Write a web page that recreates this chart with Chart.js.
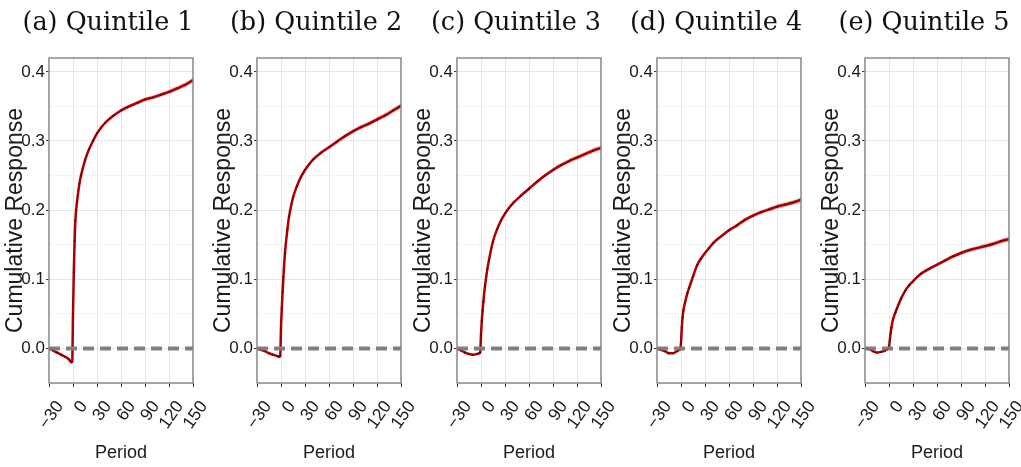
<!DOCTYPE html>
<html>
<head>
<meta charset="utf-8">
<script src="https://cdn.jsdelivr.net/npm/chart.js@4.4.1/dist/chart.umd.min.js"></script>
<style>
  body { margin: 0; background: #fff; }
  #wrap { position: relative; width: 1021px; height: 467px; overflow: hidden; }
  #wrap canvas { position: absolute; top: 0; }
</style>
</head>
<body>
<div id="wrap">
  <canvas id="q1" width="212" height="467" style="left:0px"></canvas>
  <canvas id="q2" width="212" height="467" style="left:208px"></canvas>
  <canvas id="q3" width="212" height="467" style="left:408px"></canvas>
  <canvas id="q4" width="212" height="467" style="left:608px"></canvas>
  <canvas id="q5" width="212" height="467" style="left:816px"></canvas>
</div>
<script>
// periods relative to the event
const periods = [-30, -25, -20, -15, -10, -5, -2, -1, 0, 1, 2, 3, 5, 8, 10, 15, 20, 25, 30, 35, 40,
                 50, 60, 70, 80, 90, 100, 110, 120, 130, 140, 150];

// cumulative response per quintile
const q1 = [0, -0.003, -0.006, -0.009, -0.012, -0.016, -0.020, -0.019, 0.05, 0.11, 0.155, 0.185, 0.212, 0.238, 0.25, 0.272, 0.288, 0.300, 0.311, 0.319, 0.326,
            0.336, 0.344, 0.350, 0.355, 0.360, 0.363, 0.367, 0.371, 0.376, 0.381, 0.388];
const q2 = [0, -0.002, -0.004, -0.007, -0.009, -0.011, -0.012, -0.011, 0.03, 0.058, 0.082, 0.103, 0.138, 0.172, 0.19, 0.218, 0.235, 0.248, 0.258, 0.266, 0.273,
            0.283, 0.291, 0.299, 0.307, 0.314, 0.320, 0.325, 0.331, 0.337, 0.344, 0.351];
const q3 = [0, -0.003, -0.006, -0.008, -0.009, -0.008, -0.007, -0.006, 0.02, 0.04, 0.055, 0.068, 0.09, 0.115, 0.128, 0.155, 0.172, 0.185, 0.195, 0.203, 0.210,
            0.221, 0.231, 0.241, 0.250, 0.258, 0.265, 0.271, 0.276, 0.281, 0.286, 0.290];
const q4 = [0, -0.002, -0.004, -0.007, -0.007, -0.004, -0.002, -0.001, 0.008, 0.03, 0.045, 0.055, 0.066, 0.08, 0.087, 0.104, 0.12, 0.13, 0.138, 0.145, 0.152,
            0.162, 0.171, 0.178, 0.186, 0.192, 0.197, 0.201, 0.205, 0.208, 0.211, 0.215];
const q5 = [0, -0.001, -0.004, -0.006, -0.005, -0.003, -0.001, 0, 0.002, 0.012, 0.022, 0.03, 0.042, 0.052, 0.058, 0.072, 0.083, 0.091, 0.097, 0.103, 0.108,
            0.115, 0.121, 0.127, 0.133, 0.138, 0.142, 0.145, 0.148, 0.151, 0.155, 0.158];

// half width of the confidence band
const bandHalf = [0.0005, 0.0008, 0.001, 0.0012, 0.0013, 0.0014, 0.0015, 0.0015, 0.0016, 0.0017, 0.0018, 0.0018, 0.0019, 0.002, 0.002, 0.0021, 0.0022, 0.0022, 0.0023, 0.0023, 0.0024,
                  0.0025, 0.0026, 0.0027, 0.0028, 0.0029, 0.003, 0.0031, 0.0032, 0.0033, 0.0034, 0.0035];

const titles = ["(a) Quintile 1", "(b) Quintile 2", "(c) Quintile 3", "(d) Quintile 4", "(e) Quintile 5"];
const xTickValues = [-30, 0, 30, 60, 90, 120, 150];
const xTickLabels = ["\u221230", "0", "30", "60", "90", "120", "150"];
const yTickValues = [0, 0.1, 0.2, 0.3, 0.4];
const yTickLabels = ["0.0", "0.1", "0.2", "0.3", "0.4"];

const sans = "'Liberation Sans', Arial, sans-serif";

function yIndex(v) {
    return yTickValues.findIndex(t => Math.abs(t - v) < 1e-9);
}

// grey box round the panel
const framePlugin = {
    id: "frame",
    afterDraw(chart) {
        const a = chart.chartArea;
        const ctx = chart.ctx;
        ctx.save();
        ctx.strokeStyle = "#8a8a8a";
        ctx.lineWidth = 1.5;
        ctx.strokeRect(a.left, a.top, a.right - a.left, a.bottom - a.top);
        ctx.restore();
    }
};

// panel caption, centred over plot + axis label like the original subfigure
const panelTitle = {
    id: "panelTitle",
    afterDraw(chart, args, opts) {
        const a = chart.chartArea;
        const ctx = chart.ctx;
        ctx.save();
        ctx.font = "25.5px 'DejaVu Serif', serif";
        ctx.fillStyle = "#111";
        ctx.textAlign = "center";
        ctx.textBaseline = "middle";
        ctx.fillText(opts.text, (a.left + a.right) / 2 - 13, 23);
        ctx.restore();
    }
};

function makePanel(id, title, values) {
    const line = periods.map((p, i) => ({ x: p, y: values[i] }));
    const lower = periods.map((p, i) => ({ x: p, y: values[i] - bandHalf[i] }));
    const upper = periods.map((p, i) => ({ x: p, y: values[i] + bandHalf[i] }));
    const zero = [{ x: xTickValues[0], y: 0 }, { x: xTickValues[xTickValues.length - 1], y: 0 }];

    new Chart(document.getElementById(id), {
        type: "line",
        data: {
            datasets: [
                { data: lower, borderWidth: 0, pointRadius: 0, fill: false, cubicInterpolationMode: "monotone" },
                { data: upper, borderWidth: 0, pointRadius: 0, fill: "-1", backgroundColor: "rgba(178,0,0,0.3)", cubicInterpolationMode: "monotone" },
                { data: zero, borderColor: "#808080", borderWidth: 4, borderDash: [11, 6], pointRadius: 0, fill: false },
                {
                    data: line, borderColor: "#a80000", borderWidth: 2.5, fill: false,
                    pointRadius: 1, pointBackgroundColor: "#5a0000", pointBorderWidth: 0,
                    cubicInterpolationMode: "monotone"
                }
            ]
        },
        options: {
            responsive: false,
            devicePixelRatio: 1,
            animation: false,
            layout: { padding: { top: 58, right: 19 } },
            plugins: {
                legend: { display: false },
                tooltip: { enabled: false },
                title: { display: false },
                panelTitle: { text: title }
            },
            scales: {
                x: {
                    type: "linear",
                    min: -30,
                    max: 150,
                    afterFit(s) {
                        s.height = 84;
                        s.paddingLeft = 0; s.paddingRight = 0; s.paddingTop = 0; s.paddingBottom = 0;
                    },
                    border: { display: false },
                    grid: {
                        color: c => xTickValues.includes(c.tick.value) ? "#e6e6e6" : "rgba(0,0,0,0)",
                        lineWidth: 1,
                        tickColor: c => xTickValues.includes(c.tick.value) ? "#333" : "rgba(0,0,0,0)",
                        tickLength: 4
                    },
                    ticks: {
                        stepSize: 15,
                        autoSkip: false,
                        minRotation: 55,
                        maxRotation: 55,
                        padding: 10,
                        labelOffset: 11,
                        color: "#1a1a1a",
                        font: { family: sans, size: 17.5 },
                        callback: v => {
                            const i = xTickValues.indexOf(v);
                            return i >= 0 ? xTickLabels[i] : "";
                        }
                    },
                    title: {
                        display: true,
                        text: "Period",
                        color: "#1a1a1a",
                        font: { family: sans, size: 18 },
                        padding: { top: 0, bottom: 3 }
                    }
                },
                y: {
                    min: -0.05,
                    max: 0.42,
                    afterFit(s) {
                        s.width = 49;
                        s.paddingLeft = 0; s.paddingRight = 0; s.paddingTop = 0; s.paddingBottom = 0;
                    },
                    border: { display: false },
                    grid: {
                        color: c => yIndex(c.tick.value) >= 0 ? "#e6e6e6" : "#f3f3f3",
                        lineWidth: 1,
                        tickColor: c => yIndex(c.tick.value) >= 0 ? "#333" : "rgba(0,0,0,0)",
                        tickLength: 3
                    },
                    ticks: {
                        stepSize: 0.05,
                        includeBounds: false,
                        autoSkip: false,
                        padding: 1,
                        color: "#1a1a1a",
                        font: { family: sans, size: 17 },
                        callback: v => {
                            const i = yIndex(v);
                            return i >= 0 ? yTickLabels[i] : "";
                        }
                    },
                    title: {
                        display: true,
                        text: "Cumulative Response",
                        color: "#1a1a1a",
                        font: { family: sans, size: 23 },
                        padding: { top: 2, bottom: 0 }
                    }
                }
            }
        },
        plugins: [framePlugin, panelTitle]
    });
}

document.addEventListener("DOMContentLoaded", () => {
    makePanel("q1", titles[0], q1);
    makePanel("q2", titles[1], q2);
    makePanel("q3", titles[2], q3);
    makePanel("q4", titles[3], q4);
    makePanel("q5", titles[4], q5);
});
</script>
</body>
</html>
